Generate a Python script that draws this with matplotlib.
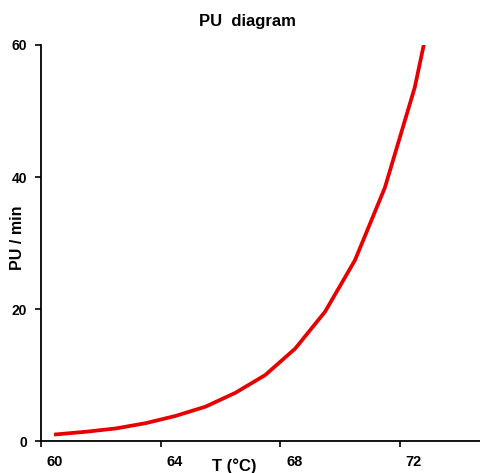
import matplotlib.pyplot as plt
import matplotlib.transforms as mtransforms

plt.rcParams['font.family'] = ['Liberation Sans', 'DejaVu Sans']
plt.rcParams['font.weight'] = 'bold'

# data
temp = [60.5, 61.5, 62.5, 63.5, 64.5, 65.5, 66.5, 67.5, 68.5, 69.5, 70.5, 71.5, 72.5, 73.5]
pu = [1.0, 1.4, 1.9, 2.7, 3.8, 5.2, 7.3, 10.0, 14.0, 19.6, 27.4, 38.4, 53.6, 75.0]
x_ticks = [60, 64, 68, 72]
y_ticks = [0, 20, 40, 60]

fig = plt.figure(figsize=(4.8, 4.73), dpi=100)
ax = fig.add_axes([41 / 480, 1 - 441 / 473, 1 - 41 / 480, (441 - 45) / 473])

ax.plot(temp, pu, color='#e60000', linewidth=2.7, solid_joinstyle='round')

ax.set_xlim(60, 74.68)
ax.set_ylim(0, 60)
ax.set_xticks(x_ticks)
ax.set_yticks(y_ticks)
ax.tick_params(axis='x', direction='out', length=4, width=1.2, labelsize=10.5, pad=6)
ax.tick_params(axis='y', direction='out', length=4, width=1.2, labelsize=10, pad=6)

# excel-like label offset on the x axis
offset = mtransforms.ScaledTranslation(14 / 100, 0, fig.dpi_scale_trans)
for lbl in ax.get_xticklabels():
    lbl.set_transform(lbl.get_transform() + offset)

for side in ['top', 'right']:
    ax.spines[side].set_visible(False)
for side in ['left', 'bottom']:
    ax.spines[side].set_linewidth(1.3)

fig.text(247 / 480, 1 - 21 / 473, 'PU  diagram', ha='center', va='center',
         fontsize=12, fontweight='bold')
fig.text(234 / 480, 1 - 466 / 473, 'T (°C)', ha='center', va='center',
         fontsize=12, fontweight='bold')
fig.text(17 / 480, 1 - 238 / 473, 'PU / min', ha='center', va='center',
         rotation=90, fontsize=11.5, fontweight='bold')

fig.savefig('out.png', dpi=100)
